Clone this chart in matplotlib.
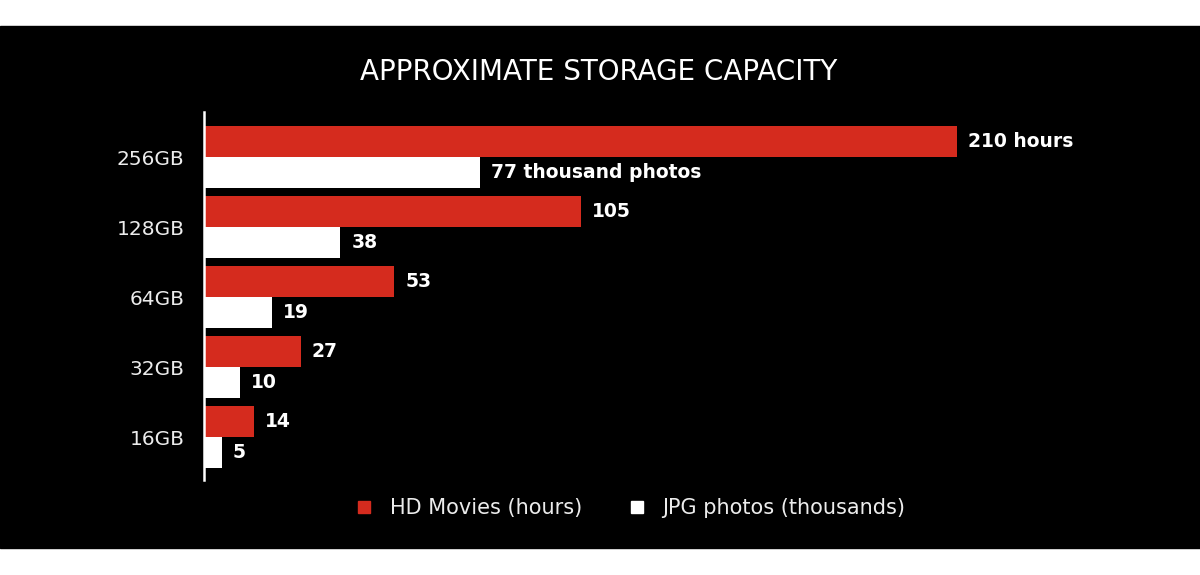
import numpy as np
import matplotlib.pyplot as plt
from matplotlib.lines import Line2D

plt.rcParams['font.family'] = ['DejaVu Sans']

capacities = ["16GB", "32GB", "64GB", "128GB", "256GB"]
movies_hours = [14, 27, 53, 105, 210]
photos_thousands = [5, 10, 19, 38, 77]
movie_labels = ["14", "27", "53", "105", "210 hours"]
photo_labels = ["5", "10", "19", "38", "77 thousand photos"]

red = "#d52b1e"
bh = 0.443

fig = plt.figure(figsize=(12, 5.75), dpi=100)
fig.patch.set_facecolor("white")
# black panel between the white bands
fig.add_artist(plt.Rectangle((0, 27/575), 1, 1 - 27/575 - 26/575,
                             transform=fig.transFigure, color="black", zorder=0))

ax = fig.add_axes([204/1200, 1 - 480/575, 896.5/1200, 368/575])
ax.patch.set_alpha(0)

y = np.arange(len(capacities))
ax.barh(y + bh/2, movies_hours, height=bh, color=red)
ax.barh(y - bh/2, photos_thousands, height=bh, color="white")

for i in range(len(capacities)):
    ax.annotate(movie_labels[i], (movies_hours[i], y[i] + bh/2), xytext=(8, 0),
                textcoords="offset points", va="center", ha="left",
                color="white", fontsize=13.5, fontweight="bold")
    ax.annotate(photo_labels[i], (photos_thousands[i], y[i] - bh/2), xytext=(8, 0),
                textcoords="offset points", va="center", ha="left",
                color="white", fontsize=13.5, fontweight="bold")

for s in ["top", "right", "bottom"]:
    ax.spines[s].set_visible(False)
ax.spines["left"].set_color("white")
ax.spines["left"].set_linewidth(1.8)

ax.set_xlim(0, 250)
ax.set_ylim(-0.614, 4.643)
ax.set_yticks(y)
ax.set_yticklabels(capacities, color="#ececec", fontsize=14.5)
ax.tick_params(axis="y", length=0, pad=14)
ax.set_xticks([])

fig.text(0.499, 1 - 72/575, "APPROXIMATE STORAGE CAPACITY", ha="center", va="center",
         color="white", fontsize=20)

handles = [Line2D([], [], marker="s", linestyle="none", color=red, markersize=9),
           Line2D([], [], marker="s", linestyle="none", color="white", markersize=9)]
leg = fig.legend(handles, ["HD Movies (hours)", "JPG photos (thousands)"],
                 loc="center", bbox_to_anchor=(0.526, 1 - 508/575), ncol=2,
                 frameon=False, handlelength=0.7, handletextpad=0.9,
                 columnspacing=2.25, fontsize=15)
for t in leg.get_texts():
    t.set_color("#ececec")

fig.savefig("out.png", dpi=100)
